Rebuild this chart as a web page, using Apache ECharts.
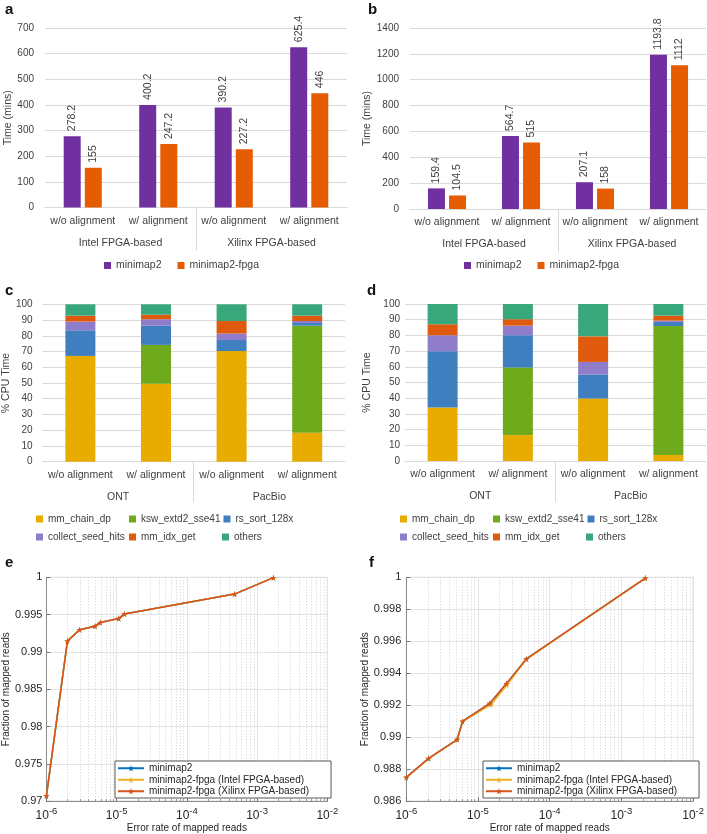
<!DOCTYPE html>
<html><head><meta charset="utf-8">
<script src="https://cdn.jsdelivr.net/npm/echarts@6/dist/echarts.min.js"></script>
<style>html,body{margin:0;padding:0;background:#fff}#c{width:707px;height:834px}</style>
</head><body><div id="c"></div>
<script>
// ---------- data ----------
const barCategories = ['w/o alignment', 'w/ alignment', 'w/o alignment', 'w/ alignment'];
const groupsAB = ['Intel FPGA-based', 'Xilinx FPGA-based'];
const groupsCD = ['ONT', 'PacBio'];
const barSeriesNames = ['minimap2', 'minimap2-fpga'];

const aMinimap2 = [278.2, 400.2, 390.2, 625.4];
const aFpga = [155, 247.2, 227.2, 446];
const bMinimap2 = [159.4, 564.7, 207.1, 1193.8];
const bFpga = [104.5, 515, 158, 1112];

const stackNames = ['mm_chain_dp', 'ksw_extd2_sse41', 'rs_sort_128x', 'collect_seed_hits', 'mm_idx_get', 'others'];
// panel c (% CPU time per function)
const cChain = [67.2, 49.6, 70.3, 18.4];
const cKsw = [0, 24.6, 0, 68.0];
const cSort = [16.3, 12.2, 7.0, 1.7];
const cCollect = [5.5, 4.1, 4.1, 1.3];
const cIdx = [3.8, 2.9, 8.0, 3.4];
const cOthers = [7.2, 6.6, 10.6, 7.2];
// panel d
const dChain = [34.1, 16.5, 39.8, 3.8];
const dKsw = [0, 43.0, 0, 82.2];
const dSort = [35.8, 20.6, 15.3, 2.6];
const dCollect = [10.2, 6.1, 8.0, 0.8];
const dIdx = [7.0, 4.1, 16.3, 3.2];
const dOthers = [12.9, 9.7, 20.6, 7.4];

const lineNames = ['minimap2', 'minimap2-fpga (Intel FPGA-based)', 'minimap2-fpga (Xilinx FPGA-based)'];
// panel e
const eX = [1e-6, 1.99e-6, 2.97e-6, 4.92e-6, 5.84e-6, 1.07e-5, 1.29e-5, 4.77e-4, 1.71e-3];
const eY = [0.9707, 0.99145, 0.99297, 0.99344, 0.99393, 0.99447, 0.99509, 0.99775, 0.99995];
// panel f
const fX = [1e-6, 2.05e-6, 5.12e-6, 6.08e-6, 1.46e-5, 2.49e-5, 4.73e-5, 2.16e-3];
const fY = [0.98748, 0.98867, 0.98985, 0.99098, 0.99211, 0.99335, 0.99489, 0.99995];
const fXIntel = [1e-6, 2.05e-6, 5.12e-6, 6.08e-6, 1.52e-5, 2.52e-5, 4.73e-5, 2.16e-3];
const fYIntel = [0.98748, 0.98867, 0.98985, 0.99098, 0.99203, 0.99325, 0.99487, 0.99995];

// ---------- styles ----------
const FONT = 'Liberation Sans, Arial, sans-serif';
const TXT = '#404040';
const GRIDC = '#d9d9d9';
const BAR_COLORS = ['#7030A0', '#E65C00'];
const STACK_COLORS = ['#E8AB00', '#6EAA1B', '#3F7EBF', '#8F7DCB', '#DF5A0C', '#38A77C'];
const LINE_COLORS = ['#0072BD', '#EDB120', '#D95319'];
const STAR = 'path://M50,0 L61,35 L98,35 L68,57 L79,91 L50,70 L21,91 L32,57 L2,35 L39,35 Z';

const zip = (xs, ys) => xs.map((x, i) => [x, ys[i]]);

const grids = [
  {left: 45, top: 28, width: 302, height: 179.5},
  {left: 410, top: 28, width: 296, height: 181},
  {left: 42, top: 304.3, width: 303, height: 157.4},
  {left: 405, top: 304, width: 301, height: 157},
  {left: 39.3, top: 577.3, width: 288, height: 226, show: true, borderColor: '#d4d4d4', borderWidth: 1},
  {left: 406.3, top: 577.3, width: 288, height: 227, show: true, borderColor: '#d4d4d4', borderWidth: 1},
  {left: 45, top: 207.5, width: 302, height: 43},
  {left: 410, top: 209, width: 296, height: 43},
  {left: 42, top: 461.7, width: 303, height: 41},
  {left: 405, top: 461, width: 301, height: 41}
];

const lbl = (size) => ({color: TXT, fontSize: size, fontFamily: FONT});

function catAxes(gi, groups) {
  return [
    {type: 'category', gridIndex: gi, data: barCategories,
     axisLine: {lineStyle: {color: GRIDC}}, axisTick: {show: false},
     axisLabel: Object.assign({margin: 8, interval: 0}, lbl(10.5))},
    {type: 'category', gridIndex: gi, data: groups, position: 'bottom', offset: 22,
     axisLine: {show: false}, axisTick: {show: false},
     axisLabel: Object.assign({margin: 8, interval: 0}, lbl(10.5))}
  ];
}
function sepAxis(gi) {
  return {type: 'value', gridIndex: gi, min: 0, max: 4, interval: 2,
    axisLine: {show: false}, axisTick: {show: false}, axisLabel: {show: false},
    splitLine: {show: true, showMinLine: false, showMaxLine: false, lineStyle: {color: GRIDC}}};
}
function valAxis(gi, max, interval, name, nameGap, margin) {
  return {type: 'value', gridIndex: gi, min: 0, max: max, interval: interval,
    name: name, nameLocation: 'middle', nameGap: nameGap, nameTextStyle: lbl(10.5),
    axisLine: {show: false}, axisTick: {show: false},
    axisLabel: Object.assign({margin: margin, formatter: v => String(v)}, lbl(10)),
    splitLine: {lineStyle: {color: GRIDC}}};
}
const MTXT = '#262626';
const logLabel = v => '{b|10}{s|' + Math.round(Math.log10(v)) + '}';
function logAxis(gi) {
  return {type: 'log', logBase: 10, gridIndex: gi, min: 1e-6, max: 1e-2,
    name: 'Error rate of mapped reads', nameLocation: 'middle', nameGap: 20,
    nameTextStyle: {color: MTXT, fontSize: 10, fontFamily: FONT},
    axisLine: {onZero: false, lineStyle: {color: '#8c8c8c'}},
    axisTick: {inside: true, length: 4, lineStyle: {color: '#777'}},
    minorTick: {show: true, splitNumber: 9, length: 2, lineStyle: {color: '#999'}},
    splitLine: {show: true, lineStyle: {color: '#e3e3e3'}},
    minorSplitLine: {show: true, lineStyle: {color: '#d0d0d0', type: [1, 2]}},
    axisLabel: {margin: 5, formatter: logLabel,
      rich: {b: {fontSize: 12, color: MTXT, fontFamily: FONT, lineHeight: 16, verticalAlign: 'bottom'},
             s: {fontSize: 9.5, color: MTXT, fontFamily: FONT, lineHeight: 16, verticalAlign: 'top'}}}};
}
function fracAxis(gi, min, interval, nameGap, margin) {
  return {type: 'value', gridIndex: gi, min: min, max: 1, interval: interval,
    name: 'Fraction of mapped reads', nameLocation: 'middle', nameGap: nameGap,
    nameTextStyle: {color: MTXT, fontSize: 10, fontFamily: FONT},
    axisLine: {show: true, onZero: false, lineStyle: {color: '#8c8c8c'}},
    axisTick: {show: true, inside: true, length: 4, lineStyle: {color: '#777'}},
    axisLabel: {margin: margin, color: MTXT, fontSize: 11, fontFamily: FONT},
    splitLine: {show: true, lineStyle: {color: '#e3e3e3'}}};
}

const xAxis = [].concat(
  catAxes(0, groupsAB), catAxes(1, groupsAB), catAxes(2, groupsCD), catAxes(3, groupsCD),
  [logAxis(4), logAxis(5), sepAxis(6), sepAxis(7), sepAxis(8), sepAxis(9)]
);
const yAxis = [
  valAxis(0, 700, 100, 'Time (mins)', 30, 11),
  valAxis(1, 1400, 200, 'Time (mins)', 35, 11),
  valAxis(2, 100, 10, '% CPU Time', 29, 10),
  valAxis(3, 100, 10, '% CPU Time', 32, 5),
  fracAxis(4, 0.97, 0.005, 26, 4),
  fracAxis(5, 0.986, 0.002, 28, 5),
  {type: 'value', gridIndex: 6, show: false},
  {type: 'value', gridIndex: 7, show: false},
  {type: 'value', gridIndex: 8, show: false},
  {type: 'value', gridIndex: 9, show: false}
];

const series = [];
function addBars(xi, yi, arrs) {
  arrs.forEach((d, k) => series.push({
    type: 'bar', name: barSeriesNames[k], xAxisIndex: xi, yAxisIndex: yi, data: d,
    barWidth: 17, barGap: '24%', itemStyle: {color: BAR_COLORS[k]},
    label: {show: true, position: 'top', rotate: 90, align: 'left', verticalAlign: 'middle',
      distance: 5, color: TXT, fontSize: 10.5, fontFamily: FONT}
  }));
}
addBars(0, 0, [aMinimap2, aFpga]);
addBars(2, 1, [bMinimap2, bFpga]);
function addStack(xi, yi, arrs, key) {
  arrs.forEach((d, k) => series.push({
    type: 'bar', name: stackNames[k], xAxisIndex: xi, yAxisIndex: yi, data: d, stack: key,
    barWidth: 30, itemStyle: {color: STACK_COLORS[k]}
  }));
}
addStack(4, 2, [cChain, cKsw, cSort, cCollect, cIdx, cOthers], 'c');
addStack(6, 3, [dChain, dKsw, dSort, dCollect, dIdx, dOthers], 'd');
function addLines(xi, yi, dataSets) {
  dataSets.forEach((d, k) => series.push({
    type: 'line', name: lineNames[k] + ' ', xAxisIndex: xi, yAxisIndex: yi, data: d,
    symbol: STAR, symbolSize: 6, z: 3 + k,
    lineStyle: {width: 1.5, color: LINE_COLORS[k]}, itemStyle: {color: LINE_COLORS[k]}
  }));
}
addLines(8, 4, [zip(eX, eY), zip(eX, eY), zip(eX, eY)]);
addLines(9, 5, [zip(fX, fY), zip(fXIntel, fYIntel), zip(fX, fY)]);

const panelTitle = (t, l, tp) => ({text: t, left: l, top: tp, padding: 0,
  textStyle: {fontSize: 15, fontWeight: 'bold', color: '#111', fontFamily: FONT}});

const barLegend = (l) => ({left: l, top: 260, data: barSeriesNames, icon: 'rect',
  itemWidth: 7, itemHeight: 7, itemGap: 16, padding: 0, textStyle: lbl(10.5)});
const stackLegend = (l) => ({left: l, top: 511.5, width: 290, data: stackNames, icon: 'rect',
  itemWidth: 7, itemHeight: 7, itemGap: 3, padding: 0,
  textStyle: Object.assign({width: 78, lineHeight: 15}, lbl(10))});
const lineLegend = (l) => ({left: l, top: 761, orient: 'vertical', data: lineNames.map(n => n + ' '),
  formatter: n => n.trim(), backgroundColor: '#fff', borderColor: '#555', borderWidth: 1,
  padding: [1.5, 22, 1, 2], itemGap: 0, itemWidth: 26, itemHeight: 8,
  textStyle: {color: MTXT, fontSize: 10, lineHeight: 11.5, fontFamily: FONT}});

const option = {
  animation: false,
  backgroundColor: '#fff',
  title: [panelTitle('a', 5, 2), panelTitle('b', 368, 2), panelTitle('c', 5, 283),
          panelTitle('d', 367, 283), panelTitle('e', 5, 555), panelTitle('f', 369, 555)],
  grid: grids,
  xAxis: xAxis,
  yAxis: yAxis,
  legend: [barLegend(104), barLegend(464), stackLegend(36), stackLegend(400),
           lineLegend(115), lineLegend(483)],
  series: series
};
const chart = echarts.init(document.getElementById('c'), null, {renderer: 'canvas'});
chart.setOption(option);
</script></body></html>
